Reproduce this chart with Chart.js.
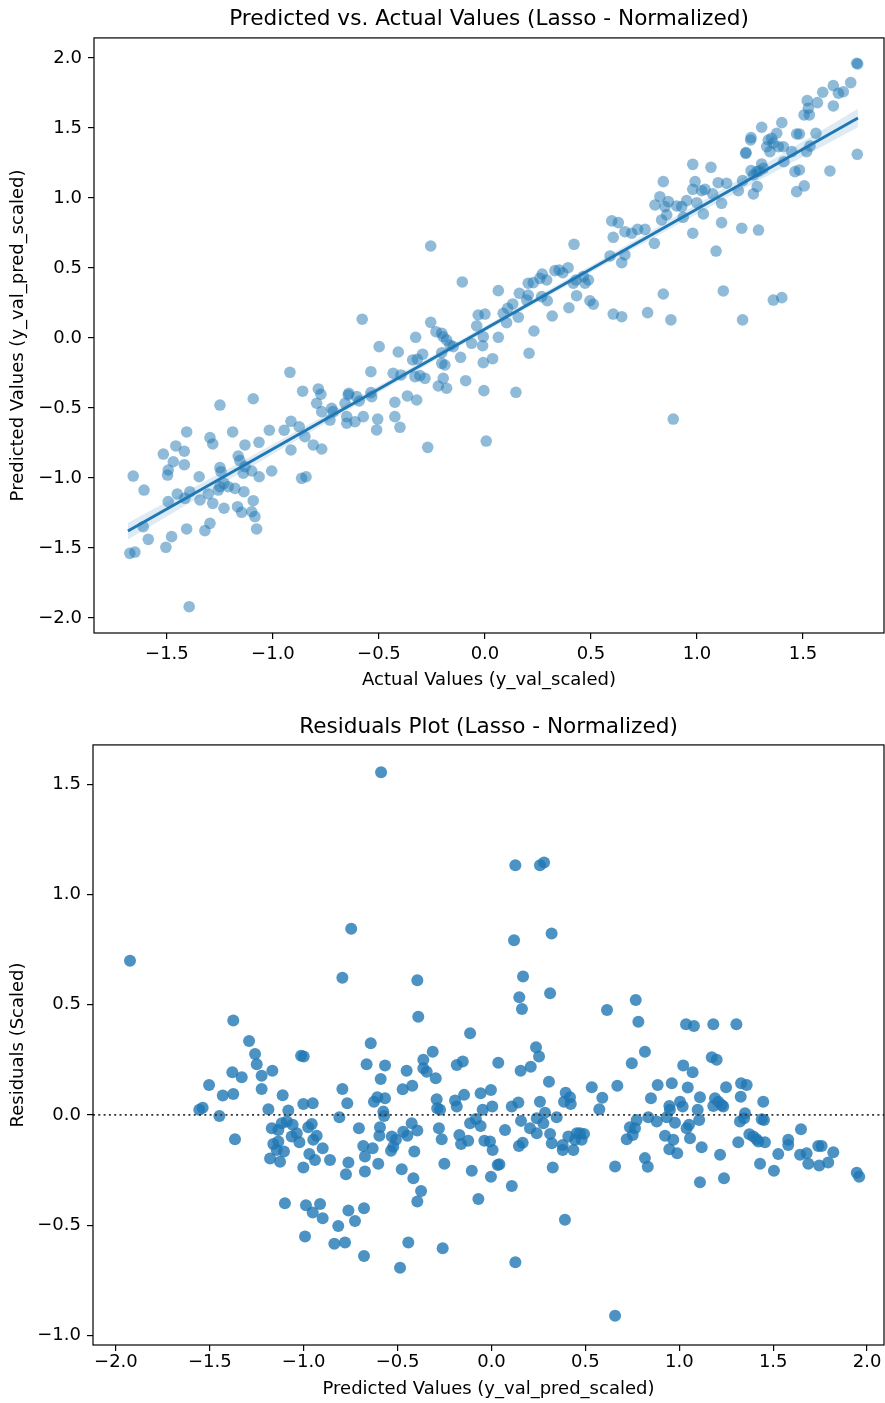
<!DOCTYPE html>
<html>
<head>
<meta charset="utf-8">
<script src="https://cdn.jsdelivr.net/npm/chart.js@4.4.1/dist/chart.umd.min.js"></script>
<style>
  html, body { margin: 0; padding: 0; background: #fff; }
  #wrap { position: relative; width: 885px; height: 1403px; }
  .panel { position: absolute; left: 0; width: 885px; }
  #panelTop { top: 0; height: 700px; }
  #panelBottom { top: 700px; height: 703px; }
</style>
</head>
<body>
<div id="wrap">
  <div class="panel" id="panelTop"><canvas id="fitChart"></canvas></div>
  <div class="panel" id="panelBottom"><canvas id="residChart"></canvas></div>
</div>
<script>
// ---- Predicted vs. actual (scaled validation targets) ----
const actualScaled = [
  -0.92,-0.86,-0.786,-0.774,-1.093,-1.25,-0.794,-0.645,
  -0.723,-0.716,-0.66,-0.652,-0.731,-0.77,-0.652,
  -1.407,-1.19,-1.017,-0.947,-0.915,-0.876,-0.849,
  -1.297,-1.284,-1.132,-1.066,-0.915,-0.81,-0.77,
  -1.517,-1.458,-1.418,-1.47,-1.418,-1.494,-1.497,
  -1.659,-1.348,-1.25,-1.245,-1.164,-1.156,-1.132,
  -1.14,-1.10,-1.065,-1.006,-0.865,-0.844,
  -1.608,-1.451,-1.494,-1.415,-1.392,-1.344,-1.305,
  -1.284,-1.258,-1.25,-1.231,-1.211,-1.179,-1.137,
  -1.231,-1.167,-1.148,-1.093,-1.10,-1.085,-1.077,
  -1.612,-1.588,-1.478,-1.505,-1.407,-1.321,-1.297,
  -1.675,-1.651,-1.395,
  -0.256,0.42,-0.107,0.063,0.162,
  0.204,0.228,0.27,0.291,0.259,
  0.33,0.35,0.367,0.392,
  0.429,0.432,0.204,0.197,0.267,0.294,0.317,0.396,
  -0.579,-0.256,
  -0.231,-0.197,-0.181,-0.165,-0.15,-0.204,
  -0.032,0,-0.039,
  -0.008,0.063,-0.011,-0.063,-0.115,
  0.086,0.107,0.131,0.102,0.157,
  0.231,0.208,-0.008,0.036,-0.091,-0.005,0.146,
  0.006,-0.27,
  -0.499,-0.409,-0.327,-0.341,-0.319,-0.294,
  -0.33,-0.307,-0.283,
  -0.204,-0.204,-0.189,-0.197,-0.22,-0.181,
  -0.538,-0.433,-0.396,-0.366,-0.322,-0.425,
  -0.425,-0.401,-0.506,-0.511,-0.574,
  -0.538,-0.534,-0.642,-0.605,-0.593,-0.613,
  1.253,1.23,0.98,1.066,0.841,
  0.991,0.98,1.022,1.038,
  1.10,1.14,1.215,1.255,1.282,1.195,1.266,
  1.074,1.116,
  0.825,0.802,0.865,0.849,0.904,0.928,0.951,0.999,
  0.833,0.857,0.935,1.03,1.116,1.211,1.29,0.98,1.09,
  0.598,0.629,0.66,0.692,0.72,0.755,0.605,0.799,
  0.59,0.66,0.645,
  0.464,0.488,0.472,0.417,
  0.495,0.511,0.605,0.645,0.767,0.841,0.877,1.124,1.215,0.888,
  1.758,1.753,1.725,1.69,1.667,1.643,1.593,1.568,
  1.52,1.525,1.505,1.53,1.643,1.756,1.627,
  1.561,1.517,1.533,
  1.47,1.483,1.462,1.483,1.47,1.506,
  1.4,1.376,1.352,1.336,1.329,1.344,1.36,1.384,1.407,1.447,1.41,
  1.305,1.255,1.231,
  1.305,1.313,1.294,1.266,1.284,
  1.36,1.4
];
const predictedScaled = [
  -0.245,-0.38,-0.364,-0.402,-0.434,-0.479,-0.466,-0.407,
  -0.502,-0.526,-0.466,-0.562,-0.586,-0.526,-0.609,
  -0.671,-0.671,-0.659,-0.659,-0.595,-0.634,-0.705,
  -0.712,-0.757,-0.764,-0.745,-0.8,-0.764,-0.793,
  -0.829,-0.771,-0.809,-0.884,-0.905,-0.943,-0.979,
  -0.986,-0.991,-0.926,-0.955,-0.843,-0.876,-0.919,
  -0.966,-0.95,-0.991,-0.95,-1.002,-0.991,
  -1.086,-1.114,-1.169,-1.145,-1.098,-1.157,-1.114,
  -1.181,-1.086,-1.062,-1.038,-1.062,-1.074,-1.098,
  -1.216,-1.205,-1.245,-1.162,-1.241,-1.276,-1.364,
  -1.348,-1.438,-1.419,-1.495,-1.364,-1.376,-1.324,
  -1.538,-1.529,-1.919,
  0.657,0.669,0.4,0.338,0.319,
  0.391,0.395,0.457,0.414,0.426,
  0.481,0.486,0.466,0.502,
  0.414,0.302,0.307,0.271,0.295,0.266,0.157,0.216,
  0.134,0.112,
  0.045,0.009,-0.014,-0.05,-0.062,0.034,
  0.164,0.171,0.086,
  0.009,0.005,-0.055,-0.038,-0.138,
  0.176,0.212,0.243,0.109,0.148,
  0.05,-0.109,-0.176,-0.148,-0.305,-0.376,-0.388,
  -0.736,-0.781,
  -0.062,-0.1,0.005,-0.157,-0.152,-0.116,
  -0.276,-0.269,-0.288,
  -0.105,-0.181,-0.193,-0.288,-0.343,-0.359,
  -0.241,-0.252,-0.264,-0.414,-0.443,-0.459,
  -0.562,-0.638,-0.579,-0.657,-0.562,
  -0.39,-0.419,-0.395,-0.419,-0.45,-0.598,
  1.414,1.319,1.24,1.219,1.117,
  1.117,1.062,1.052,1.062,
  1.109,1.105,1.124,1.195,1.188,1.052,1.029,
  1.029,0.962,
  1.009,0.95,0.974,0.938,0.943,0.938,0.981,0.966,
  0.843,0.879,0.862,0.886,0.824,0.784,0.771,0.748,0.621,
  0.836,0.824,0.759,0.748,0.776,0.776,0.719,0.676,
  0.586,0.593,0.538,
  0.438,0.414,0.391,0.391,
  0.266,0.241,0.171,0.152,0.181,0.314,0.129,0.336,0.129,-0.579,
  1.957,1.962,1.824,1.759,1.748,1.802,1.755,1.681,
  1.695,1.641,1.593,1.593,1.657,1.312,1.193,
  1.462,1.331,1.371,
  1.457,1.457,1.188,1.2,1.045,1.086,
  1.538,1.462,1.426,1.414,1.366,1.331,1.391,1.366,1.366,1.331,1.259,
  1.505,1.431,1.324,
  1.243,1.212,1.193,1.164,1.081,
  0.271,0.288
];

// fitted regression line and its confidence band
const fitX = [-1.684, 1.759];
const fitY = [-1.379, 1.571];
const bandX    = [-1.684, -1.2, -0.6, 0, 0.6, 1.2, 1.759];
const bandLow  = [-1.44, -1.005, -0.475, 0.044, 0.553, 1.052, 1.505];
const bandHigh = [-1.32, -0.925, -0.425, 0.084, 0.603, 1.132, 1.637];

// ---- Residuals against the predicted values ----
const residX = [
  -1.925,-0.747,-0.794,-1.375,-1.291,
  -0.588,0.127,0.258,0.28,0.12,0.32,-0.395,0.168,0.148,0.162,0.312,0.615,-0.39,-0.114,-0.643,
  0.768,0.782,1.036,1.078,1.181,1.304,
  -1.259,-1.25,-1.014,-1.0,-0.665,-1.38,-1.33,-1.224,-1.167,-1.224,-1.504,-1.431,-1.375,-1.112,-0.794,-0.768,-1.002,-0.952,-1.556,-1.538,-1.449,-1.188,-1.082,-0.81,
  -1.17,-1.117,-1.09,-1.059,-1.135,-1.037,-1.064,-1.023,-0.976,-0.957,-0.931,-0.949,
  -1.162,-1.135,-1.144,-1.105,-1.179,-1.126,-1.366,-0.97,-0.94,-0.899,-0.86,-1.002,-0.762,-0.775,-0.706,-0.683,-0.674,-0.674,
  -1.1,-0.988,-0.952,-0.913,-0.899,-0.816,-0.762,-0.727,-0.679,-0.993,-0.837,-0.78,-0.679,
  -0.567,-0.59,-0.626,-0.608,-0.567,-0.576,-0.572,-0.594,-0.597,-0.633,-0.603,
  -0.363,-0.363,-0.345,-0.313,-0.297,-0.452,-0.473,-0.422,-0.292,-0.274,-0.289,
  -0.185,-0.153,-0.194,-0.185,-0.146,0.036,-0.058,-0.003,-0.047,0.004,
  0.155,0.209,0.237,0.253,0.306,0.108,0.143,0.258,0.285,0.241,0.347,
  0.395,0.418,0.422,0.386,0.534,0.59,0.574,0.67,
  -0.531,-0.509,-0.523,-0.535,-0.47,-0.448,-0.425,-0.395,-0.411,-0.478,-0.416,-0.375,-0.395,
  -0.28,-0.265,-0.251,-0.171,-0.162,-0.124,-0.114,-0.083,-0.058,-0.105,
  -0.038,-0.008,0.006,0.033,0.042,-0.003,-0.07,0.072,0.108,0.146,0.166,
  0.157,0.205,0.241,0.276,0.312,0.321,0.326,
  0.379,0.379,0.409,0.436,0.445,0.471,0.493,0.48,0.454,
  0.391,0.127,-0.443,-0.487,-0.26,0.658,0.658,
  0.817,0.747,1.173,1.199,1.021,1.071,0.885,0.96,1.045,0.849,
  0.947,0.95,1.004,1.018,1.11,1.098,1.106,
  1.19,1.208,1.181,1.226,1.234,1.249,1.329,1.359,1.327,
  1.35,1.323,1.345,1.447,1.439,1.451,
  0.835,0.88,0.933,0.977,0.737,0.764,0.773,0.72,0.752,
  0.817,0.832,0.924,0.968,0.947,0.989,1.039,1.052,1.057,
  1.119,1.11,1.217,1.238,1.314,
  1.373,1.394,1.412,1.421,1.456,1.43,1.504,1.527,1.58,1.58,1.648,1.643,1.678,1.687,1.74,1.758,1.745,1.793,1.82,1.945,1.958
];
const residY = [
  0.70,0.845,0.623,0.428,0.336,
  1.555,1.133,1.133,1.145,0.793,0.823,0.611,0.628,0.534,0.481,0.552,0.476,0.446,0.371,0.325,
  0.522,0.423,0.411,0.404,0.411,0.411,
  0.277,0.23,0.269,0.265,0.23,0.194,0.171,0.178,0.2,0.118,0.136,0.088,0.095,0.089,0.118,0.053,0.05,0.053,0.023,0.033,-0.005,0.026,0.02,-0.01,
  -0.06,-0.038,-0.03,-0.045,-0.068,-0.083,-0.098,-0.124,-0.056,-0.041,-0.095,-0.113,
  -0.132,-0.121,-0.159,-0.166,-0.198,-0.212,-0.11,-0.177,-0.204,-0.151,-0.204,-0.239,-0.216,-0.269,-0.06,-0.141,-0.189,-0.257,
  -0.401,-0.41,-0.443,-0.404,-0.469,-0.504,-0.434,-0.481,-0.423,-0.552,-0.585,-0.579,-0.64,
  0.224,0.163,0.06,0.08,0.076,0.015,-0.005,-0.056,-0.095,-0.151,-0.222,
  0.25,0.212,0.196,0.287,0.166,0.2,0.117,0.132,0.071,0.023,0.03,
  0.227,0.242,0.065,0.038,0.091,0.237,0.098,0.113,0.023,0.038,
  0.2,0.219,0.307,0.265,0.151,0.038,0.056,0.06,0.01,-0.015,-0.01,
  0.101,0.08,0.05,0.06,0.126,0.078,0.026,0.132,
  -0.098,-0.113,-0.144,-0.163,-0.076,-0.095,-0.038,-0.071,-0.166,-0.246,-0.287,-0.345,-0.393,
  -0.06,-0.11,-0.222,-0.091,-0.132,-0.117,-0.038,-0.018,-0.05,-0.253,
  -0.117,-0.121,-0.159,-0.227,-0.224,-0.28,-0.381,-0.068,-0.322,-0.141,-0.126,
  -0.027,-0.06,-0.083,-0.038,-0.086,-0.128,-0.239,
  -0.136,-0.159,-0.098,-0.159,-0.113,-0.083,-0.086,-0.113,-0.083,
  -0.476,-0.668,-0.579,-0.693,-0.605,-0.911,-0.234,
  0.287,0.235,0.262,0.25,0.224,0.194,0.136,0.144,0.124,0.076,
  0.041,0.023,0.06,0.038,0.08,0.023,-0.023,
  0.076,0.06,0.041,0.045,0.038,0.126,0.144,0.136,0.083,
  0.008,-0.03,-0.015,0.06,-0.02,-0.023,
  -0.01,-0.03,-0.01,-0.035,-0.056,-0.06,-0.023,-0.11,-0.091,
  -0.196,-0.235,-0.095,-0.113,-0.156,-0.174,-0.06,-0.045,-0.106,
  -0.147,-0.305,-0.181,-0.287,-0.124,
  -0.088,-0.098,-0.11,-0.121,-0.124,-0.222,-0.253,-0.177,-0.113,-0.136,-0.065,-0.181,-0.174,-0.222,-0.141,-0.141,-0.23,-0.216,-0.169,-0.262,-0.28
];

// axis limits and tick spacing
const fitXLim = [-1.844, 1.882];
const fitYLim = [-2.107, 2.143];
const residXLim = [-2.122, 2.09];
const residYLim = [-1.044, 1.679];
const tickStep = 0.5;
const zeroLevel = 0;

const FONT = "'DejaVu Sans', 'Liberation Sans', sans-serif";
const BLUE = '#1f77b4';

function tickText(v) {
  const s = Math.abs(v).toFixed(1);
  return v < -1e-9 ? '\u2212' + s : s;
}

// box around the plotting area (all four spines)
const frame = {
  id: 'frame',
  afterDatasetsDraw(chart) {
    const a = chart.chartArea, ctx = chart.ctx;
    ctx.save();
    ctx.strokeStyle = '#000';
    ctx.lineWidth = 1.2;
    ctx.strokeRect(a.left, a.top, a.right - a.left, a.bottom - a.top);
    ctx.restore();
  }
};

function axis(lim, titleText, isX, size, tickPad, titlePad) {
  return {
    type: 'linear',
    min: lim[0],
    max: lim[1],
    afterFit(s) {
      if (isX) { s.height = size; s.paddingLeft = 0; s.paddingRight = 0; }
      else { s.width = size; s.paddingTop = 0; s.paddingBottom = 0; }
    },
    border: { display: false },
    grid: { display: true, drawOnChartArea: false, drawTicks: true, tickLength: 6, color: '#000', lineWidth: 1.2 },
    ticks: {
      stepSize: tickStep, includeBounds: false, autoSkip: false, maxRotation: 0,
      padding: tickPad, color: '#000', font: { family: FONT, size: 18 },
      callback: tickText
    },
    title: {
      display: true, text: titleText, color: '#000',
      font: { family: FONT, size: 18 },
      padding: titlePad
    }
  };
}

function baseOptions(titleText, titlePad, scales) {
  return {
    responsive: true,
    maintainAspectRatio: false,
    animation: false,
    devicePixelRatio: 1,
    layout: { autoPadding: false, padding: { left: 0, right: 1, top: 0, bottom: 0 } },
    plugins: {
      legend: { display: false },
      tooltip: { enabled: false },
      title: {
        display: true, fullSize: false, text: titleText, color: '#000',
        font: { family: FONT, size: 21.6, weight: 'normal' },
        padding: titlePad
      }
    },
    scales
  };
}

const toPoints = (xs, ys) => xs.map((x, i) => ({ x, y: ys[i] }));

new Chart(document.getElementById('fitChart'), {
  type: 'scatter',
  data: {
    datasets: [
      {
        data: toPoints(actualScaled, predictedScaled),
        backgroundColor: 'rgba(31,119,180,0.5)',
        borderWidth: 0, pointRadius: 5.8, order: 3
      },
      {
        type: 'line', data: toPoints(bandX, bandLow),
        borderWidth: 0, pointRadius: 0, fill: false, order: 2
      },
      {
        type: 'line', data: toPoints(bandX, bandHigh),
        borderWidth: 0, pointRadius: 0, fill: '-1',
        backgroundColor: 'rgba(31,119,180,0.15)', order: 2
      },
      {
        type: 'line', data: toPoints(fitX, fitY),
        borderColor: BLUE, borderWidth: 3, pointRadius: 0, fill: false, order: 1
      }
    ]
  },
  options: baseOptions(
    'Predicted vs. Actual Values (Lasso - Normalized)',
    { top: 6, bottom: 6 },
    {
      x: axis(fitXLim, 'Actual Values (y_val_scaled)', true, 67, 5, { top: 0, bottom: 9 }),
      y: axis(fitYLim, 'Predicted Values (y_val_pred_scaled)', false, 94, 6, { top: 8, bottom: 0 })
    }
  ),
  plugins: [frame]
});

new Chart(document.getElementById('residChart'), {
  type: 'scatter',
  data: {
    datasets: [
      {
        data: toPoints(residX, residY),
        backgroundColor: 'rgba(31,119,180,0.8)',
        borderWidth: 0, pointRadius: 6, order: 2
      },
      {
        type: 'line',
        data: [{ x: residXLim[0], y: zeroLevel }, { x: residXLim[1], y: zeroLevel }],
        borderColor: '#333', borderWidth: 1.8, borderDash: [2, 3.3],
        pointRadius: 0, fill: false, order: 1
      }
    ]
  },
  options: baseOptions(
    'Residuals Plot (Lasso - Normalized)',
    { top: 14, bottom: 5 },
    {
      x: axis(residXLim, 'Predicted Values (y_val_pred_scaled)', true, 58, 1, { top: 0, bottom: 3 }),
      y: axis(residYLim, 'Residuals (Scaled)', false, 93, 6, { top: 8, bottom: 0 })
    }
  ),
  plugins: [frame]
});
</script>
</body>
</html>
